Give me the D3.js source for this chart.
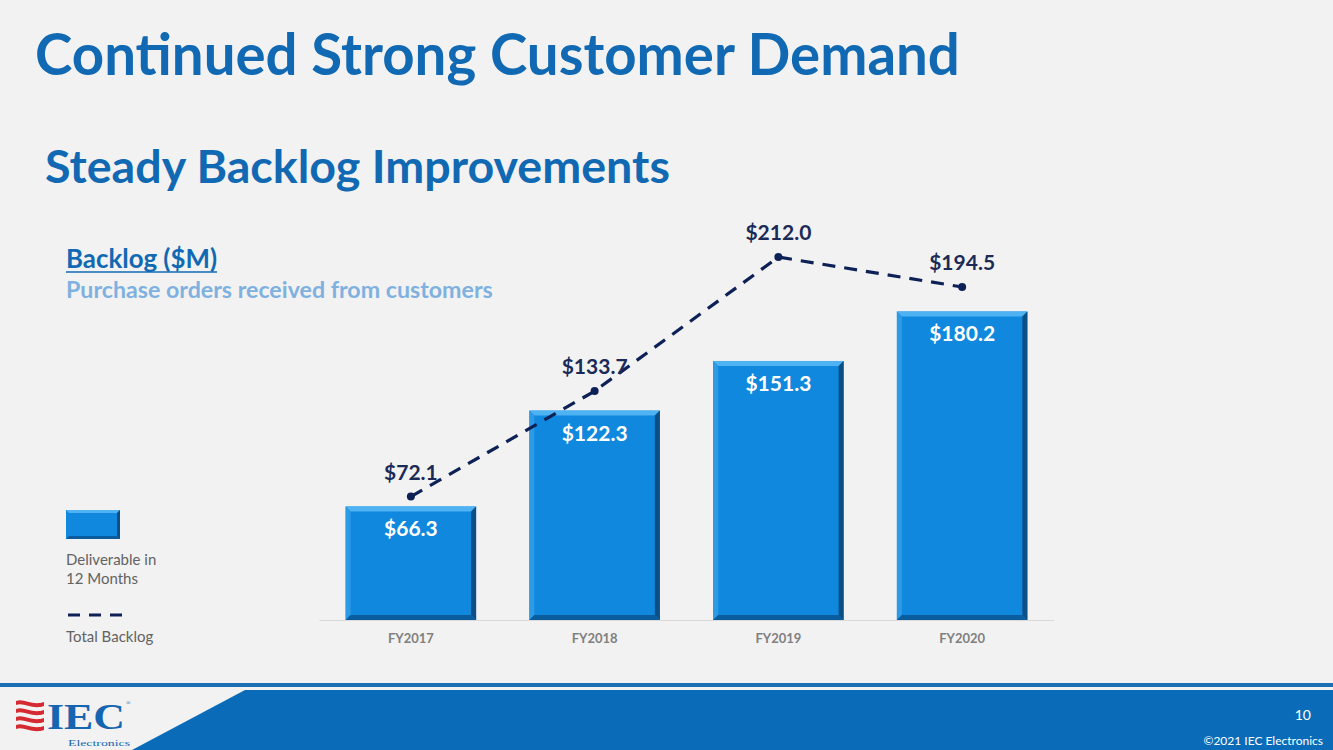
<!DOCTYPE html>
<html><head><meta charset="utf-8">
<script src="https://cdn.jsdelivr.net/npm/d3@7"></script>
<style>html,body{margin:0;padding:0;background:#f2f2f2;}svg{display:block;}</style>
</head><body>
<script>
const categories = ["FY2017","FY2018","FY2019","FY2020"];
const deliverable = [66.3,122.3,151.3,180.2];
const totalBacklog = [72.1,133.7,212.0,194.5];
const fmt = v => "$" + v.toFixed(1);

const W=1333,H=750;
const svg=d3.select("body").append("svg").attr("width",W).attr("height",H);
svg.append("rect").attr("width",W).attr("height",H).attr("fill","#f2f2f2");
const FONT="Lato, 'Open Sans', sans-serif";

function fitText(sel,target){
  const n=sel.node(); const fs=parseFloat(sel.attr("font-size"));
  const w=n.getComputedTextLength(); sel.attr("font-size",fs*target/w);
}

// Titles
fitText(svg.append("text").attr("x",35).attr("y",75).attr("font-family",FONT).attr("font-weight",700)
  .attr("font-size",52).attr("fill","#1169b3").text("Continued Strong Customer Demand"),925);
fitText(svg.append("text").attr("x",45).attr("y",183).attr("font-family",FONT).attr("font-weight",700)
  .attr("font-size",38).attr("fill","#1169b3").text("Steady Backlog Improvements"),625);
fitText(svg.append("text").attr("x",66).attr("y",268).attr("font-family",FONT).attr("font-weight",700)
  .attr("font-size",21).attr("fill","#1169b3").text("Backlog ($M)"),151);
svg.append("line").attr("x1",66).attr("x2",217).attr("y1",272).attr("y2",272).attr("stroke","#1169b3").attr("stroke-width",1.6);
fitText(svg.append("text").attr("x",66).attr("y",298).attr("font-family",FONT).attr("font-weight",700)
  .attr("font-size",20).attr("fill","#7fb1e0").text("Purchase orders received from customers"),427);

// Scales
const x=d3.scaleBand().domain(categories).range([319,1054]).paddingInner(0.29).paddingOuter(0.145);
const y=d3.scaleLinear().domain([0,250]).range([620,192]);

// axis
const ax=svg.append("g").attr("transform","translate(0,620)")
  .call(d3.axisBottom(x).tickSize(0).tickPadding(14));
ax.select(".domain").attr("stroke","#d9d9d9").attr("stroke-width",1.2);
ax.selectAll("text").attr("font-family",FONT).attr("font-weight",700).attr("font-size",13).attr("fill","#808080");

// bars with bevel
const bw=x.bandwidth(), bev=5;
const bars=svg.append("g").selectAll("g").data(categories).join("g");
bars.each(function(c,i){
  const g=d3.select(this);
  const x0=x(c), x1=x0+bw, y0=y(deliverable[i]), y1=y(0);
  g.append("rect").attr("x",x0).attr("y",y0).attr("width",bw).attr("height",y1-y0).attr("fill","#0f88dd");
  g.append("path").attr("d",`M${x0},${y0}L${x1},${y0}L${x1-bev},${y0+bev}L${x0+bev},${y0+bev}Z`).attr("fill","#4fb2f2");
  g.append("path").attr("d",`M${x0},${y0}L${x0+bev},${y0+bev}L${x0+bev},${y1-bev}L${x0},${y1}Z`).attr("fill","#2d9ae6");
  g.append("path").attr("d",`M${x1},${y0}L${x1},${y1}L${x1-bev},${y1-bev}L${x1-bev},${y0+bev}Z`).attr("fill","#0b4f85");
  g.append("path").attr("d",`M${x0},${y1}L${x1},${y1}L${x1-bev},${y1-bev}L${x0+bev},${y1-bev}Z`).attr("fill","#0a5c9c");
  g.append("text").attr("x",x0+bw/2).attr("y",y0+30).attr("text-anchor","middle").attr("font-family",FONT)
    .attr("font-weight",700).attr("font-size",21).attr("fill","#ffffff").text(fmt(deliverable[i]));
});

// line
const line=d3.line().x((d,i)=>x(categories[i])+bw/2).y(d=>y(d));
svg.append("path").datum(totalBacklog).attr("d",line).attr("fill","none").attr("stroke","#0e2157")
  .attr("stroke-width",3.2).attr("stroke-dasharray","13,9");
svg.append("g").selectAll("circle").data(totalBacklog).join("circle")
  .attr("cx",(d,i)=>x(categories[i])+bw/2).attr("cy",d=>y(d)).attr("r",4).attr("fill","#0e2157");
svg.append("g").selectAll("text").data(totalBacklog).join("text")
  .attr("x",(d,i)=>x(categories[i])+bw/2).attr("y",d=>y(d)-17).attr("text-anchor","middle")
  .attr("font-family",FONT).attr("font-weight",700).attr("font-size",21).attr("fill","#1b2a57").text(d=>fmt(d));

// legend
(function(){
  const lx=66, ly=510, lw=54, lh=29, b=3;
  svg.append("rect").attr("x",lx).attr("y",ly).attr("width",lw).attr("height",lh).attr("fill","#0f88dd");
  svg.append("path").attr("d",`M${lx},${ly}L${lx+lw},${ly}L${lx+lw-b},${ly+b}L${lx+b},${ly+b}Z`).attr("fill","#4fb2f2");
  svg.append("path").attr("d",`M${lx+lw},${ly}L${lx+lw},${ly+lh}L${lx+lw-b},${ly+lh-b}L${lx+lw-b},${ly+b}Z`).attr("fill","#0b4f85");
  svg.append("path").attr("d",`M${lx},${ly+lh}L${lx+lw},${ly+lh}L${lx+lw-b},${ly+lh-b}L${lx+b},${ly+lh-b}Z`).attr("fill","#0a5c9c");
  const t=[["Deliverable in",565],["12 Months",584],["Total Backlog",642]];
  t.forEach(d=>svg.append("text").attr("x",66).attr("y",d[1]).attr("font-family",FONT).attr("font-size",15)
    .attr("fill","#626262").text(d[0]));
  svg.append("line").attr("x1",68).attr("x2",122).attr("y1",615).attr("y2",615).attr("stroke","#0e2157")
    .attr("stroke-width",3).attr("stroke-dasharray","12,9");
})();

// footer
svg.append("rect").attr("x",0).attr("y",683).attr("width",W).attr("height",4).attr("fill","#1a6eb5");
svg.append("path").attr("d","M245,690L1333,690L1333,750L132,750Z").attr("fill","#0a6cb8");
svg.append("text").attr("x",1311).attr("y",720).attr("text-anchor","end").attr("font-family",FONT)
  .attr("font-size",14).attr("fill","#ffffff").text("10");
svg.append("text").attr("x",1323).attr("y",745).attr("text-anchor","end").attr("font-family",FONT)
  .attr("font-size",12).attr("fill","#ffffff").text("©2021 IEC Electronics");

// logo
const logo=svg.append("g");
for(let k=0;k<4;k++){
  const yy=701+k*8;
  logo.append("path").attr("d",`M16,${yy}C24,${yy-3} 32,${yy+5} 44,${yy+1}L44,${yy+5}C32,${yy+9} 24,${yy+1} 16,${yy+4}Z`).attr("fill","#d62a33");
}
logo.append("text").attr("x",47).attr("y",729).attr("font-family","'Liberation Serif', serif").attr("font-weight",700)
  .attr("font-size",35).attr("fill","#1565b0").attr("textLength",78).attr("lengthAdjust","spacingAndGlyphs").text("IEC");
logo.append("text").attr("x",126).attr("y",705).attr("font-family","'Liberation Serif', serif").attr("font-size",6).attr("fill","#1565b0").text("®");
logo.append("text").attr("x",68).attr("y",746).attr("font-family","'Liberation Serif', serif")
  .attr("font-size",9).attr("fill","#1565b0").attr("textLength",62).attr("lengthAdjust","spacingAndGlyphs").text("Electronics");
</script>
</body></html>
